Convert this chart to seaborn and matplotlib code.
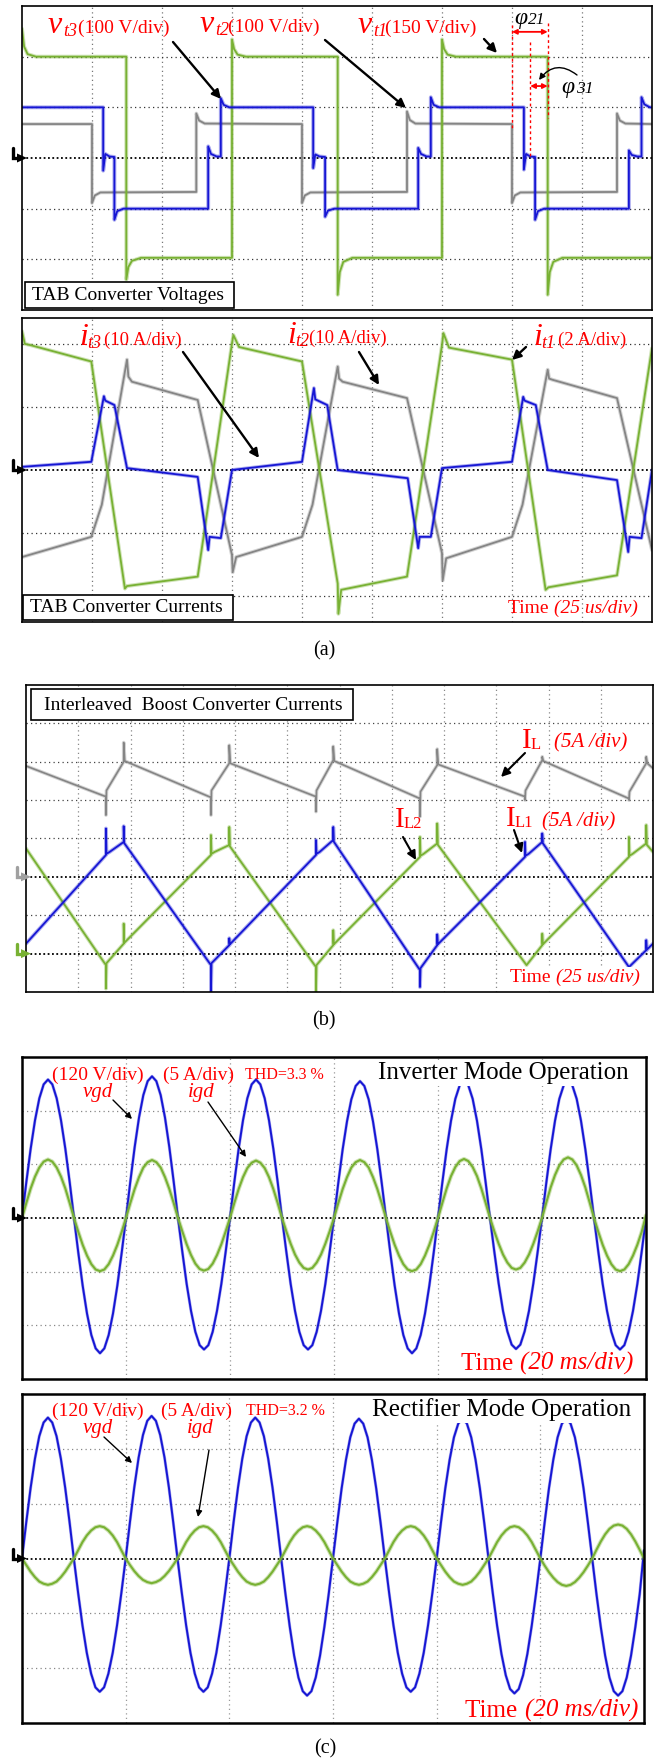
import numpy as np
import matplotlib
matplotlib.use("Agg")
import matplotlib.pyplot as plt
import seaborn as sns
from matplotlib.transforms import IdentityTransform
from matplotlib.patches import Rectangle, FancyArrowPatch, Polygon
from matplotlib.lines import Line2D

# ---------------- (a) TAB converter voltages (time / amplitude in divisions)
vt1_t = [0.00, 0.03, 0.08, 0.20, 1.49, 1.49, 1.52, 1.57, 1.70, 3.00,
         3.00, 3.03, 3.08, 3.20, 4.51, 4.51, 4.54, 4.59, 4.72, 6.00,
         6.00, 6.03, 6.08, 6.20, 7.51, 7.51, 7.54, 7.59, 7.72, 9.00]
vt1_v = [2.55, 2.20, 2.05, 2.00, 2.00, -2.40, -2.15, -2.03, -1.97, -1.97,
         2.34, 2.15, 2.04, 2.00, 2.00, -2.70, -2.25, -2.05, -1.97, -1.97,
         2.34, 2.15, 2.04, 2.00, 2.00, -2.70, -2.25, -2.05, -1.97, -1.97]

vt2_t = [0.00, 1.00, 1.00, 1.04, 1.12, 2.49, 2.49, 2.53, 2.61,
         4.00, 4.00, 4.04, 4.12, 5.50, 5.50, 5.54, 5.62,
         7.00, 7.00, 7.04, 7.12, 8.50, 8.50, 8.54, 8.62, 9.00]
vt2_v = [0.67, 0.67, -0.89, -0.74, -0.68, -0.67, 0.88, 0.74, 0.68,
         0.67, -0.89, -0.74, -0.68, -0.67, 0.92, 0.75, 0.68,
         0.67, -0.89, -0.74, -0.68, -0.67, 0.88, 0.74, 0.68, 0.67]

vt3_t = [0.00, 1.16, 1.16, 1.19, 1.25, 1.32, 1.32, 1.36, 1.45, 2.66, 2.66, 2.70, 2.78, 2.84, 2.84, 2.88, 2.96,
         4.16, 4.16, 4.19, 4.25, 4.33, 4.33, 4.37, 4.46, 5.66, 5.66, 5.70, 5.78, 5.84, 5.84, 5.88, 5.96,
         7.17, 7.17, 7.20, 7.26, 7.33, 7.33, 7.37, 7.46, 8.67, 8.67, 8.71, 8.79, 8.85, 8.85, 8.89, 8.97, 9.00]
vt3_v = [1.00, 1.00, -0.25, 0.08, 0.03, 0.02, -1.22, -1.05, -1.00, -1.00, 0.23, 0.08, 0.03, 0.03, 1.18, 1.05, 1.00,
         1.00, -0.20, 0.07, 0.03, 0.02, -1.16, -1.04, -1.00, -1.00, 0.20, 0.08, 0.03, 0.03, 1.20, 1.05, 1.00,
         1.00, -0.23, 0.08, 0.03, 0.02, -1.22, -1.05, -1.00, -1.00, 0.15, 0.06, 0.03, 0.03, 1.20, 1.06, 1.00, 1.00]

phi_edges = [7.00, 7.26, 7.51]

# ---------------- (a) TAB converter currents
it1_t = [0.00, 0.04, 0.12, 0.99, 1.47, 1.50, 2.51, 3.00, 3.02, 3.10, 4.00, 4.51,
         4.52, 4.56, 5.50, 6.00, 6.02, 6.10, 7.00, 7.48, 7.52, 8.50, 9.00]
it1_v = [2.20, 2.00, 1.98, 1.72, -1.88, -1.84, -1.69, 2.01, 2.14, 1.95, 1.72, -1.80,
         -2.28, -1.90, -1.69, 1.98, 2.17, 1.94, 1.75, -1.90, -1.86, -1.67, 1.93]

it2_t = [0.00, 0.99, 1.14, 1.50, 1.52, 1.57, 2.51, 3.00, 3.01, 3.06, 4.00, 4.15, 4.51,
         4.53, 4.58, 5.50, 6.00, 6.01, 6.06, 7.00, 7.15, 7.51, 7.53, 7.58, 8.50, 9.00]
it2_v = [-1.38, -1.06, -0.55, 1.75, 1.48, 1.40, 1.11, -1.35, -1.62, -1.38, -1.06, -0.55, 1.64,
         1.45, 1.40, 1.14, -1.32, -1.75, -1.40, -1.06, -0.55, 1.59, 1.45, 1.43, 1.14, -1.27]

it3_t = [0.00, 0.99, 1.17, 1.19, 1.32, 1.50, 2.51, 2.66, 2.68, 2.84, 3.00,
         4.00, 4.17, 4.19, 4.36, 4.51, 5.51, 5.66, 5.68, 5.84, 6.00,
         7.00, 7.16, 7.18, 7.34, 7.51, 8.50, 8.66, 8.68, 8.85, 9.00]
it3_v = [0.05, 0.13, 1.17, 1.10, 1.03, 0.03, -0.11, -1.27, -1.06, -1.08, 0.00,
         0.13, 1.30, 1.12, 1.03, 0.00, -0.13, -1.24, -1.06, -1.06, 0.03,
         0.13, 1.16, 1.10, 1.03, 0.00, -0.16, -1.30, -1.06, -1.08, 0.00]

# ---------------- (b) interleaved boost converter currents
IL_t = [0.00,
        1.53, 1.53, 1.54, 1.87, 1.87, 1.89,
        3.54, 3.54, 3.55, 3.89, 3.89, 3.91,
        5.55, 5.55, 5.56, 5.88, 5.88, 5.90,
        7.54, 7.54, 7.55, 7.87, 7.87, 7.89,
        9.55, 9.55, 9.56, 9.88, 9.88, 9.90,
        11.54, 11.54, 11.55, 11.87, 11.87, 11.89,
        12.00]
IL_v = [5.89,
        5.09, 4.61, 5.25, 6.00, 6.50, 6.02,
        5.07, 4.61, 5.25, 5.96, 6.43, 5.96,
        5.09, 4.70, 5.25, 6.04, 6.40, 6.02,
        5.04, 4.57, 5.22, 5.91, 6.33, 5.93,
        5.09, 5.00, 5.25, 6.04, 6.13, 6.02,
        5.04, 5.00, 5.22, 5.96, 6.13, 5.96,
        5.83]

IL1_t = [0.00,
         1.53, 1.53, 1.54, 1.60, 1.87, 1.87, 1.88,
         3.54, 3.54, 3.55, 3.89, 3.89, 3.90,
         5.55, 5.55, 5.56, 5.62, 5.88, 5.88, 5.89,
         7.54, 7.54, 7.55, 7.87, 7.87, 7.88,
         9.55, 9.55, 9.56, 9.62, 9.88, 9.88, 9.89,
         11.54, 11.87, 11.87, 11.88, 12.00]
IL1_v = [1.26,
         3.57, 4.26, 3.60, 3.65, 3.91, 4.32, 3.88,
         0.70, 0.00, 0.75, 1.22, 1.40, 1.24,
         3.57, 3.96, 3.60, 3.65, 3.96, 4.30, 3.92,
         0.57, 0.13, 0.62, 1.22, 1.50, 1.24,
         3.52, 3.91, 3.55, 3.60, 3.91, 4.13, 3.88,
         0.65, 1.09, 1.35, 1.10, 1.26]

IL2_t = [0.00,
         1.53, 1.53, 1.54, 1.87, 1.87, 1.88,
         3.54, 3.54, 3.55, 3.61, 3.89, 3.89, 3.90,
         5.55, 5.55, 5.56, 5.88, 5.88, 5.89,
         7.54, 7.54, 7.55, 7.61, 7.87, 7.87, 7.88,
         9.58, 9.88, 9.88, 9.89,
         11.54, 11.54, 11.55, 11.61, 11.87, 11.87, 11.88,
         12.00]
IL2_v = [3.74,
         0.70, 0.09, 0.75, 1.26, 1.78, 1.28,
         3.57, 4.09, 3.60, 3.65, 3.83, 4.30, 3.80,
         0.65, 0.00, 0.70, 1.22, 1.61, 1.24,
         3.52, 4.04, 3.55, 3.60, 3.87, 4.39, 3.84,
         0.70, 1.22, 1.52, 1.24,
         3.52, 4.04, 3.55, 3.60, 3.87, 4.35, 3.84,
         3.65]

# ---------------- (c) grid voltage / current, 24 samples per division
t_grid = np.linspace(0, 6, 145)
vgd_inv = [
    0.00, 0.67, 1.29, 1.82, 2.23, 2.49, 2.58, 2.49, 2.23, 1.82, 1.29, 0.67,
    0.00, -0.65, -1.26, -1.78, -2.18, -2.43, -2.52, -2.43, -2.18, -1.78, -1.26, -0.65,
    0.00, 0.68, 1.32, 1.87, 2.29, 2.55, 2.64, 2.55, 2.29, 1.87, 1.32, 0.68,
    0.00, -0.63, -1.23, -1.73, -2.12, -2.37, -2.45, -2.37, -2.12, -1.73, -1.23, -0.63,
    0.00, 0.67, 1.29, 1.82, 2.23, 2.49, 2.58, 2.49, 2.23, 1.82, 1.29, 0.67,
    0.00, -0.63, -1.23, -1.73, -2.12, -2.37, -2.45, -2.37, -2.12, -1.73, -1.23, -0.63,
    0.00, 0.66, 1.28, 1.80, 2.21, 2.46, 2.55, 2.46, 2.21, 1.80, 1.28, 0.66,
    0.00, -0.65, -1.26, -1.78, -2.18, -2.43, -2.52, -2.43, -2.18, -1.78, -1.26, -0.65,
    0.00, 0.66, 1.28, 1.81, 2.22, 2.47, 2.56, 2.47, 2.22, 1.81, 1.28, 0.66,
    0.00, -0.63, -1.22, -1.73, -2.11, -2.36, -2.44, -2.36, -2.11, -1.73, -1.22, -0.63,
    0.00, 0.66, 1.28, 1.81, 2.22, 2.47, 2.56, 2.47, 2.22, 1.81, 1.28, 0.66,
    0.00, -0.63, -1.23, -1.73, -2.12, -2.37, -2.45, -2.37, -2.12, -1.73, -1.23, -0.63,
    0.00]
igd_inv = [
    0.00, 0.28, 0.55, 0.77, 0.94, 1.05, 1.09, 1.05, 0.94, 0.77, 0.55, 0.28,
    0.00, -0.26, -0.50, -0.70, -0.86, -0.96, -0.99, -0.96, -0.86, -0.70, -0.50, -0.26,
    0.00, 0.28, 0.54, 0.76, 0.94, 1.04, 1.08, 1.04, 0.94, 0.76, 0.54, 0.28,
    0.00, -0.25, -0.49, -0.69, -0.85, -0.95, -0.98, -0.95, -0.85, -0.69, -0.49, -0.25,
    0.00, 0.28, 0.54, 0.76, 0.93, 1.03, 1.07, 1.03, 0.93, 0.76, 0.54, 0.28,
    0.00, -0.25, -0.48, -0.68, -0.83, -0.93, -0.96, -0.93, -0.83, -0.68, -0.48, -0.25,
    0.00, 0.28, 0.54, 0.76, 0.94, 1.04, 1.08, 1.04, 0.94, 0.76, 0.54, 0.28,
    0.00, -0.26, -0.50, -0.70, -0.86, -0.96, -0.99, -0.96, -0.86, -0.70, -0.50, -0.26,
    0.00, 0.28, 0.55, 0.78, 0.95, 1.06, 1.10, 1.06, 0.95, 0.78, 0.55, 0.28,
    0.00, -0.25, -0.48, -0.68, -0.83, -0.93, -0.96, -0.93, -0.83, -0.68, -0.48, -0.25,
    0.00, 0.29, 0.57, 0.80, 0.98, 1.09, 1.13, 1.09, 0.98, 0.80, 0.57, 0.29,
    0.00, -0.26, -0.50, -0.70, -0.86, -0.96, -0.99, -0.96, -0.86, -0.70, -0.50, -0.26,
    0.05]
vgd_rec = [
    0.00, 0.67, 1.29, 1.82, 2.23, 2.48, 2.57, 2.48, 2.23, 1.82, 1.29, 0.67,
    0.00, -0.63, -1.22, -1.72, -2.10, -2.35, -2.43, -2.35, -2.10, -1.72, -1.22, -0.63,
    0.00, 0.67, 1.30, 1.84, 2.25, 2.51, 2.60, 2.51, 2.25, 1.84, 1.30, 0.67,
    0.00, -0.63, -1.22, -1.72, -2.10, -2.35, -2.43, -2.35, -2.10, -1.72, -1.22, -0.63,
    0.00, 0.67, 1.29, 1.82, 2.23, 2.48, 2.57, 2.48, 2.23, 1.82, 1.29, 0.67,
    0.00, -0.65, -1.25, -1.77, -2.17, -2.42, -2.50, -2.42, -2.17, -1.77, -1.25, -0.65,
    0.00, 0.66, 1.28, 1.80, 2.21, 2.46, 2.55, 2.46, 2.21, 1.80, 1.28, 0.66,
    0.00, -0.63, -1.22, -1.72, -2.10, -2.35, -2.43, -2.35, -2.10, -1.72, -1.22, -0.63,
    0.00, 0.66, 1.28, 1.80, 2.21, 2.46, 2.55, 2.46, 2.21, 1.80, 1.28, 0.66,
    0.00, -0.64, -1.23, -1.74, -2.13, -2.38, -2.46, -2.38, -2.13, -1.74, -1.23, -0.64,
    0.00, 0.66, 1.28, 1.80, 2.21, 2.46, 2.55, 2.46, 2.21, 1.80, 1.28, 0.66,
    0.00, -0.65, -1.25, -1.77, -2.17, -2.42, -2.50, -2.42, -2.17, -1.77, -1.25, -0.65,
    0.15]
igd_rec = [
    0.00, -0.12, -0.24, -0.34, -0.42, -0.46, -0.48, -0.46, -0.42, -0.34, -0.24, -0.12,
    0.00, 0.15, 0.30, 0.42, 0.51, 0.57, 0.59, 0.57, 0.51, 0.42, 0.30, 0.15,
    0.00, -0.12, -0.23, -0.32, -0.39, -0.43, -0.45, -0.43, -0.39, -0.32, -0.23, -0.12,
    0.00, 0.15, 0.30, 0.42, 0.51, 0.57, 0.59, 0.57, 0.51, 0.42, 0.30, 0.15,
    0.00, -0.12, -0.24, -0.34, -0.42, -0.46, -0.48, -0.46, -0.42, -0.34, -0.24, -0.12,
    0.00, 0.15, 0.30, 0.42, 0.51, 0.57, 0.59, 0.57, 0.51, 0.42, 0.30, 0.15,
    0.00, -0.12, -0.24, -0.34, -0.42, -0.46, -0.48, -0.46, -0.42, -0.34, -0.24, -0.12,
    0.00, 0.15, 0.30, 0.42, 0.51, 0.57, 0.59, 0.57, 0.51, 0.42, 0.30, 0.15,
    0.00, -0.12, -0.24, -0.34, -0.42, -0.46, -0.48, -0.46, -0.42, -0.34, -0.24, -0.12,
    0.00, 0.15, 0.30, 0.42, 0.51, 0.57, 0.59, 0.57, 0.51, 0.42, 0.30, 0.15,
    0.00, -0.13, -0.25, -0.35, -0.43, -0.48, -0.50, -0.48, -0.43, -0.35, -0.25, -0.13,
    0.00, 0.16, 0.31, 0.44, 0.54, 0.60, 0.62, 0.60, 0.54, 0.44, 0.31, 0.16,
    0.00]

# ---------------- styling
W, H = 665, 1760
GREEN, BLUE, GRAY, RED = "#78b133", "#1616d4", "#858585", "#ff0000"

sns.set_style("white")
plt.rcParams["font.family"] = ["Liberation Serif", "DejaVu Serif"]

fig = plt.figure(figsize=(W / 100, H / 100), dpi=100)
fig.patch.set_facecolor("white")
IDT = IdentityTransform()


def panel(l, t, r, b, spine_lw=1.2):
    ax = fig.add_axes([l / W, 1 - b / H, (r - l) / W, (b - t) / H])
    for s in ax.spines.values():
        s.set_color("black")
        s.set_linewidth(spine_lw)
    return ax


def finish(ax, xmax, ylo, yhi):
    ax.set_xlim(0, xmax)
    ax.set_ylim(ylo, yhi)
    ax.set_xticks([])
    ax.set_yticks([])
    ax.set(xlabel=None, ylabel=None)


def grid(ax, xs, ys, hcol, vcol, dark=(), lw=0.9):
    for x in xs:
        ax.axvline(x, color=vcol, lw=lw, ls=(0, (1, 2.6)), zorder=0.5)
    for y in ys:
        ax.axhline(y, color=hcol, lw=lw, ls=(0, (1, 2.6)), zorder=0.5)
    for y in dark:
        ax.axhline(y, color="black", lw=1.3, ls=(0, (1, 1.4)), zorder=0.6)


def trace(ax, t, v, color, lw, fuzz=0.0):
    if fuzz:
        sns.lineplot(x=t, y=v, sort=False, estimator=None, ax=ax,
                     color=color, linewidth=fuzz, alpha=0.35)
    sns.lineplot(x=t, y=v, sort=False, estimator=None, ax=ax,
                 color=color, linewidth=lw)


def put(x, y, s, size, color="black", style="normal", ha="left", bbox=None):
    fig.text(x, H - y, s, transform=IDT, fontsize=size, color=color,
             style=style, ha=ha, va="baseline", bbox=bbox)


def arrow(x0, y0, x1, y1, lw=1.6, ms=13, color="black", rad=0.0):
    fig.add_artist(FancyArrowPatch((x0, H - y0), (x1, H - y1), transform=IDT,
                                   arrowstyle="-|>", mutation_scale=ms, lw=lw,
                                   color=color, shrinkA=0, shrinkB=0,
                                   connectionstyle=f"arc3,rad={rad}"))


def box(x0, y0, x1, y1):
    fig.add_artist(Rectangle((x0, H - y1), x1 - x0, y1 - y0, transform=IDT,
                             facecolor="white", edgecolor="black", lw=1.2))


def ch_marker(ax, yval, color):
    x0, y0 = ax.transData.transform((ax.get_xlim()[0], yval))
    fig.add_artist(Line2D([x0 - 9, x0 - 9, x0 - 3], [y0 + 10, y0, y0], transform=IDT,
                          color=color, lw=2.4, solid_joinstyle="miter"))
    fig.add_artist(Polygon([[x0 - 5, y0 + 4.5], [x0 - 5, y0 - 4.5], [x0 + 5, y0]],
                           closed=True, transform=IDT, facecolor=color, lw=0))


WHITE_BOX = dict(facecolor="white", edgecolor="none", pad=1.5)

# ================= panel 1: voltages
ax1 = panel(22, 6, 652, 310)
grid(ax1, range(1, 9), [-2, -1, 1, 2], "#333333", "#777777", dark=[0])
trace(ax1, vt2_t, vt2_v, GRAY, 1.3, fuzz=2.6)
trace(ax1, vt1_t, vt1_v, GREEN, 1.3, fuzz=2.8)
trace(ax1, vt3_t, vt3_v, BLUE, 1.3, fuzz=2.8)
finish(ax1, 9, -3, 3)
dash = dict(color=RED, lw=1.0, ls=(0, (2, 2)))
ax1.plot([phi_edges[0]] * 2, [2.62, 0.55], **dash)
ax1.plot([phi_edges[1]] * 2, [2.28, 0.00], **dash)
ax1.plot([phi_edges[2]] * 2, [2.66, 0.79], **dash)
dbl = dict(arrowstyle="<|-|>", color=RED, lw=1.3, mutation_scale=7, shrinkA=0, shrinkB=0)
ax1.annotate("", xy=(phi_edges[2], 2.49), xytext=(phi_edges[0], 2.49), arrowprops=dbl)
ax1.annotate("", xy=(phi_edges[2], 1.42), xytext=(phi_edges[1], 1.42), arrowprops=dbl)
ch_marker(ax1, 0, "black")

put(48, 33, "v", 23, RED, "italic")
put(63, 36, "t3", 13, RED, "italic")
put(78, 33, "(100 V/div)", 14, RED)
put(200, 32, "v", 23, RED, "italic")
put(215, 35, "t2", 13, RED, "italic")
put(228, 32, "(100 V/div)", 14, RED)
put(358, 33, "v", 23, RED, "italic")
put(373, 36, "t1", 13, RED, "italic")
put(385, 33, "(150 V/div)", 14, RED)
arrow(173, 42, 221, 99, lw=1.7)
arrow(325, 40, 406, 108, lw=1.7)
arrow(484, 39, 497, 53, lw=1.7)
put(514, 24, "φ", 17, "black", "italic")
put(528, 24, "21", 12.5, "black", "italic")
put(561, 93, "φ", 17, "black", "italic")
put(576, 93, "31", 12.5, "black", "italic")
arrow(577, 75, 539, 80, lw=1.0, ms=9, rad=0.5)
box(25, 282, 234, 308)
put(32, 300, "TAB Converter Voltages", 14)

# ================= panel 2: currents
ax2 = panel(22, 318, 652, 622)
grid(ax2, range(1, 9), [-2, -1, 1, 2], "#333333", "#777777", dark=[0])
trace(ax2, it2_t, it2_v, GRAY, 1.3, fuzz=2.8)
trace(ax2, it1_t, it1_v, GREEN, 1.3, fuzz=2.8)
trace(ax2, it3_t, it3_v, BLUE, 1.3, fuzz=2.6)
finish(ax2, 9, -2.41, 2.41)
ch_marker(ax2, 0, "black")

put(79, 345, "i", 23, RED, "italic")
put(87, 348, "t3", 13, RED, "italic")
put(104, 345, "(10 A/div)", 13.5, RED)
put(287, 343, "i", 23, RED, "italic")
put(295, 346, "t2", 13, RED, "italic")
put(309, 343, "(10 A/div)", 13.5, RED)
put(533, 345, "i", 23, RED, "italic")
put(541, 348, "t1", 13, RED, "italic")
put(558, 345, "(2 A/div)", 13.5, RED)
arrow(183, 352, 259, 458, lw=1.7)
arrow(359, 352, 379, 385, lw=1.7)
arrow(526, 347, 512, 360, lw=1.7)
box(23, 595, 233, 620)
put(30, 612, "TAB Converter Currents", 14)
put(508, 613, "Time ", 14, RED)
put(554, 613, "(25 us/div)", 14, RED, "italic")
put(324, 655, "(a)", 14.5, ha="center")

# ================= panel 3: interleaved boost converter
ax3 = panel(26, 685, 653, 992)
grid(ax3, range(1, 12), [2, 4, 5, 6, 7], "#444444", "#888888", dark=[1, 3])
trace(ax3, IL_t, IL_v, GRAY, 1.2, fuzz=2.6)
trace(ax3, IL2_t, IL2_v, GREEN, 1.3, fuzz=2.8)
trace(ax3, IL1_t, IL1_v, BLUE, 1.3, fuzz=2.8)
finish(ax3, 12, 0, 8)
ch_marker(ax3, 3, "#a0a0a0")
ch_marker(ax3, 1, GREEN)

box(31, 689, 353, 720)
put(44, 710, "Interleaved  Boost Converter Currents", 14)
put(522, 748, "I", 21, RED)
put(531, 749, "L", 12, RED)
put(554, 747, "(5A /div)", 15, RED, "italic")
arrow(525, 753, 501, 777, lw=1.5)
put(395, 827, "I", 21, RED)
put(404, 828, "L2", 12, RED)
arrow(403, 837, 416, 860, lw=1.5)
put(506, 826, "I", 21, RED)
put(515, 827, "L1", 12, RED)
put(542, 826, "(5A /div)", 15, RED, "italic")
arrow(514, 830, 522, 853, lw=1.5)
put(510, 982, "Time ", 14, RED, bbox=WHITE_BOX)
put(556, 982, "(25 us/div)", 14, RED, "italic", bbox=WHITE_BOX)
put(324, 1025, "(b)", 14.5, ha="center")

# ================= panel 4: inverter mode
ax4 = panel(22, 1057, 646, 1379, spine_lw=1.8)
grid(ax4, range(1, 6), [-2, -1, 1, 2], "#888888", "#999999", dark=[0])
trace(ax4, t_grid, vgd_inv, BLUE, 1.4, fuzz=2.2)
trace(ax4, t_grid, igd_inv, GREEN, 1.5, fuzz=3.0)
finish(ax4, 6, -3, 3)
ch_marker(ax4, 0, "black")

put(52, 1080, "(120 V/div)", 14, RED)
put(83, 1097, "vgd", 15, RED, "italic")
put(163, 1080, "(5 A/div)", 14, RED)
put(188, 1097, "igd", 15, RED, "italic")
put(245, 1079, "THD=3.3 %", 11.5, RED)
put(378, 1079, "Inverter Mode Operation", 18, bbox=WHITE_BOX)
arrow(113, 1100, 132, 1119, lw=1.0, ms=9)
arrow(208, 1102, 246, 1157, lw=1.0, ms=9)
put(461, 1370, "Time ", 18, RED)
put(520, 1370, "(20 ms/div)", 18, RED, "italic")

# ================= panel 5: rectifier mode
ax5 = panel(22, 1394, 644, 1723, spine_lw=1.8)
grid(ax5, range(1, 6), [-2, -1, 1, 2], "#888888", "#999999", dark=[0])
trace(ax5, t_grid, vgd_rec, BLUE, 1.4, fuzz=2.2)
trace(ax5, t_grid, igd_rec, GREEN, 1.5, fuzz=3.0)
finish(ax5, 6, -3, 3)
ch_marker(ax5, 0, "black")

put(52, 1416, "(120 V/div)", 14, RED)
put(83, 1433, "vgd", 15, RED, "italic")
put(161, 1416, "(5 A/div)", 14, RED)
put(187, 1433, "igd", 15, RED, "italic")
put(246, 1415, "THD=3.2 %", 11.5, RED)
put(372, 1416, "Rectifier Mode Operation", 18, bbox=WHITE_BOX)
arrow(104, 1437, 132, 1463, lw=1.0, ms=9)
arrow(209, 1450, 198, 1517, lw=1.0, ms=9)
put(465, 1717, "Time ", 18, RED)
put(525, 1717, "(20 ms/div)", 18, RED, "italic")
put(325, 1753, "(c)", 14.5, ha="center")

fig.savefig("out.png", dpi=100, facecolor="white")
